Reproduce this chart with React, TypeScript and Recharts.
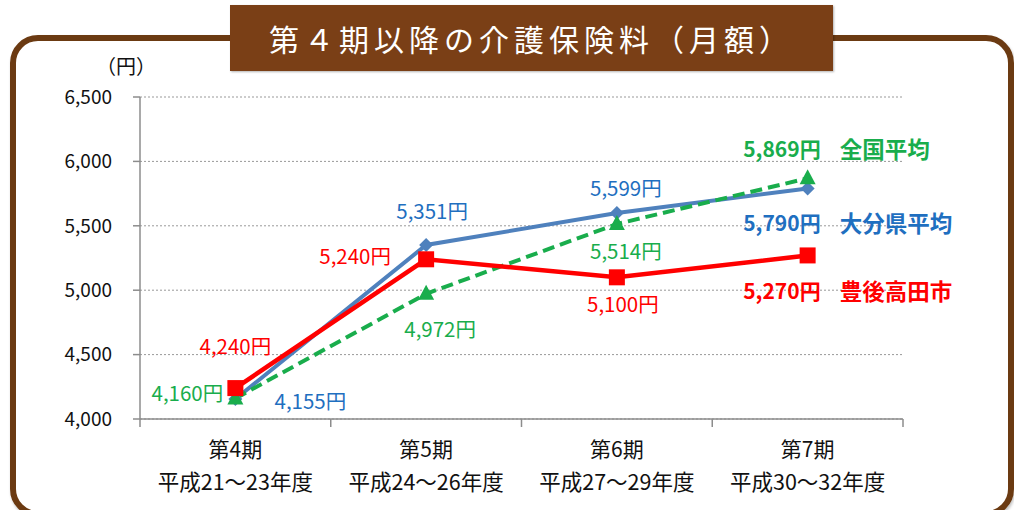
import React from 'react'
import {
  LineChart, Line, XAxis, YAxis, CartesianGrid, LabelList,
} from 'recharts'

const periods = ['第4期', '第5期', '第6期', '第7期']
const eras = ['平成21～23年度', '平成24～26年度', '平成27～29年度', '平成30～32年度']
const bungoTakada = [4240, 5240, 5100, 5270]
const oitaAvg = [4155, 5351, 5599, 5790]
const nationalAvg = [4160, 4972, 5514, 5869]
const yTicks = [4000, 4500, 5000, 5500, 6000, 6500]

const data = periods.map((p, i) => ({
  period: p,
  era: eras[i],
  takada: bungoTakada[i],
  oita: oitaAvg[i],
  national: nationalAvg[i],
}))

const RED = '#ff0000'
const BLUE_LINE = '#4f81bd'
const BLUE_TEXT = '#1f6fc0'
const GREEN = '#19ad4c'
const FONT = '"Noto Sans CJK JP", "Noto Sans", sans-serif'

// label offsets from each point (first three points), last point uses the end label
const takadaOffsets = [[0, -43], [-71, -4], [6, 26]]
const oitaOffsets = [[75, 1], [6, -35], [9, -26]]
const nationalOffsets = [[-48, -6], [14, 34], [9, 26]]

const fmt = (v: number) => v.toLocaleString('en-US')

function makeLabel(offsets: number[][], color: string, name: string, endDy: number) {
  return (props: any) => {
    const { x, y, value, index } = props
    if (index < offsets.length) {
      const [dx, dy] = offsets[index]
      return (
        <text x={x + dx} y={y + dy} textAnchor="middle" dominantBaseline="central"
          fill={color} fontSize={20.5} fontFamily={FONT}>
          {fmt(value)}円
        </text>
      )
    }
    return (
      <g>
        <text x={x + 13} y={y + endDy} textAnchor="end" dominantBaseline="central"
          fill={color} fontSize={21} fontWeight="bold" fontFamily={FONT}>
          {fmt(value)}円
        </text>
        <text x={x + 32} y={y + endDy} textAnchor="start" dominantBaseline="central"
          fill={color} fontSize={22.5} fontWeight="bold" fontFamily={FONT}>
          {name}
        </text>
      </g>
    )
  }
}

const SquareDot = (props: any) => {
  const { cx, cy } = props
  return <rect x={cx - 8} y={cy - 8} width={16} height={16} fill={RED} />
}

const DiamondDot = (props: any) => {
  const { cx, cy } = props
  return <polygon points={`${cx},${cy - 7} ${cx + 7},${cy} ${cx},${cy + 7} ${cx - 7},${cy}`} fill={BLUE_LINE} />
}

const TriangleDot = (props: any) => {
  const { cx, cy } = props
  return <polygon points={`${cx},${cy - 9} ${cx + 8},${cy + 6} ${cx - 8},${cy + 6}`} fill={GREEN} />
}

const CategoryTick = (props: any) => {
  const { x, y, payload, index, visibleTicksCount } = props
  const off = payload?.offset || 95
  const d = data[index]
  return (
    <g>
      <line x1={x - off} y1={y} x2={x - off} y2={y + 8} stroke="#8c8c8c" strokeWidth={1.5} />
      {index === visibleTicksCount - 1 && (
        <line x1={x + off} y1={y} x2={x + off} y2={y + 8} stroke="#8c8c8c" strokeWidth={1.5} />
      )}
      <text x={x} y={y + 29} textAnchor="middle" dominantBaseline="central"
        fontSize={21} fill="#111" fontFamily={FONT}>{payload.value}</text>
      <text x={x} y={y + 61} textAnchor="middle" dominantBaseline="central"
        fontSize={21.5} fill="#111" fontFamily={FONT}>{d.era}</text>
    </g>
  )
}

export default function App() {
  return (
    <div style={{ position: 'absolute', left: 0, top: 0, width: 1014, height: 510, background: '#fff', overflow: 'hidden', fontFamily: FONT }}>
      <div style={{
        position: 'absolute', left: 10, top: 35, width: 992, height: 470,
        border: '6px solid #6b3a12', borderRadius: 28,
        boxShadow: '1px 2px 3px rgba(0,0,0,0.25)',
      }} />
      <div style={{
        position: 'absolute', left: 230, top: 5, width: 603, height: 66,
        background: '#7a3f16', color: '#fff', fontSize: 30, letterSpacing: 5,
        display: 'flex', alignItems: 'center', justifyContent: 'center',
        boxShadow: '1px 1px 2px rgba(0,0,0,0.3)',
      }}>
        第４期以降の介護保険料（月額）
      </div>
      <div style={{ position: 'absolute', left: 96, top: 51, fontSize: 20, color: '#111' }}>（円）</div>
      <div style={{ position: 'absolute', left: 0, top: 0 }}>
        <LineChart width={1014} height={510} data={data}
          margin={{ top: 97, right: 111, left: 0, bottom: 11 }}>
          <CartesianGrid horizontal vertical={false} stroke="#999" strokeDasharray="2 2" />
          <XAxis dataKey="period" scale="band" height={80} interval={0}
            axisLine={{ stroke: '#8c8c8c', strokeWidth: 1.5 }}
            tickLine={false} tickSize={0} tickMargin={0}
            tick={<CategoryTick />} />
          <YAxis domain={[4000, 6500]} ticks={yTicks} width={140} interval={0}
            axisLine={{ stroke: '#8c8c8c', strokeWidth: 1.5 }}
            tickLine={{ stroke: '#8c8c8c', strokeWidth: 1.5 }}
            tickSize={7} tickMargin={21}
            tickFormatter={fmt}
            tick={{ fontSize: 19, fill: '#111', fontFamily: FONT }} />
          <Line dataKey="oita" stroke={BLUE_LINE} strokeWidth={4} dot={<DiamondDot />}
            isAnimationActive={false}>
            <LabelList dataKey="oita" content={makeLabel(oitaOffsets, BLUE_TEXT, '大分県平均', 34)} />
          </Line>
          <Line dataKey="national" stroke={GREEN} strokeWidth={4} strokeDasharray="12 6"
            dot={<TriangleDot />} isAnimationActive={false}>
            <LabelList dataKey="national" content={makeLabel(nationalOffsets, GREEN, '全国平均', -30)} />
          </Line>
          <Line dataKey="takada" stroke={RED} strokeWidth={4.5} dot={<SquareDot />}
            isAnimationActive={false}>
            <LabelList dataKey="takada" content={makeLabel(takadaOffsets, RED, '豊後高田市', 35)} />
          </Line>
        </LineChart>
      </div>
    </div>
  )
}
